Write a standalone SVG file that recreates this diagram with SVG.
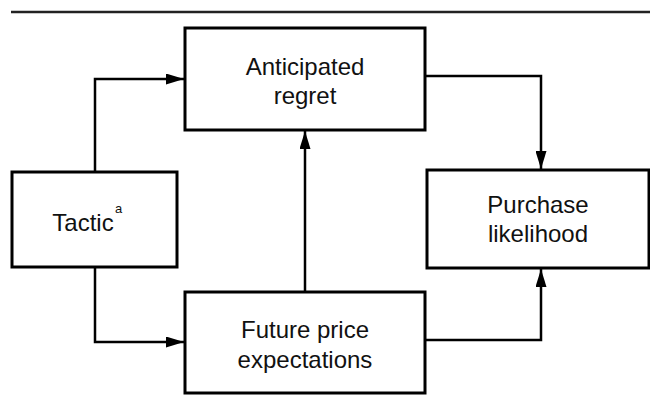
<svg xmlns="http://www.w3.org/2000/svg" width="650" height="407" viewBox="0 0 650 407">
<style>
.box{fill:#fff;stroke:#000;stroke-width:3}
.lbl{font-family:"Liberation Sans",Arial,sans-serif;font-size:24px;fill:#111;text-anchor:middle}
.sup{font-family:"Liberation Sans",Arial,sans-serif;font-size:13px;fill:#111}
.con{fill:none;stroke:#000;stroke-width:2.5}
</style>
<defs>
<marker id="arr" viewBox="0 0 18 11" refX="18" refY="5.5" markerWidth="18" markerHeight="11" markerUnits="userSpaceOnUse" orient="auto">
<path d="M0,0 L18,5.5 L0,11 Z" fill="#000"/>
</marker>
</defs>
<line x1="11" y1="12" x2="650" y2="12" stroke="#222" stroke-width="2.5"/>
<g id="connectors">
<path class="con" d="M95,172 V79 H184" marker-end="url(#arr)"/>
<path class="con" d="M95,267 V342 H184" marker-end="url(#arr)"/>
<path class="con" d="M305,292 V131" marker-end="url(#arr)"/>
<path class="con" d="M425,76 H541 V169" marker-end="url(#arr)"/>
<path class="con" d="M425,340 H541 V269" marker-end="url(#arr)"/>
</g>
<g id="tactic">
<rect class="box" x="12" y="172" width="165" height="95"/>
<text class="lbl" x="83" y="231">Tactic</text>
<text class="sup" x="115" y="213">a</text>
</g>
<g id="anticipated-regret">
<rect class="box" x="185" y="28" width="240" height="102"/>
<text class="lbl" x="305" y="75">Anticipated</text>
<text class="lbl" x="305" y="104">regret</text>
</g>
<g id="future-price">
<rect class="box" x="185" y="292" width="240" height="101"/>
<text class="lbl" x="305" y="338">Future price</text>
<text class="lbl" x="305" y="368">expectations</text>
</g>
<g id="purchase-likelihood">
<rect class="box" x="427" y="170" width="222" height="98"/>
<text class="lbl" x="538" y="213">Purchase</text>
<text class="lbl" x="538" y="242">likelihood</text>
</g>
</svg>
